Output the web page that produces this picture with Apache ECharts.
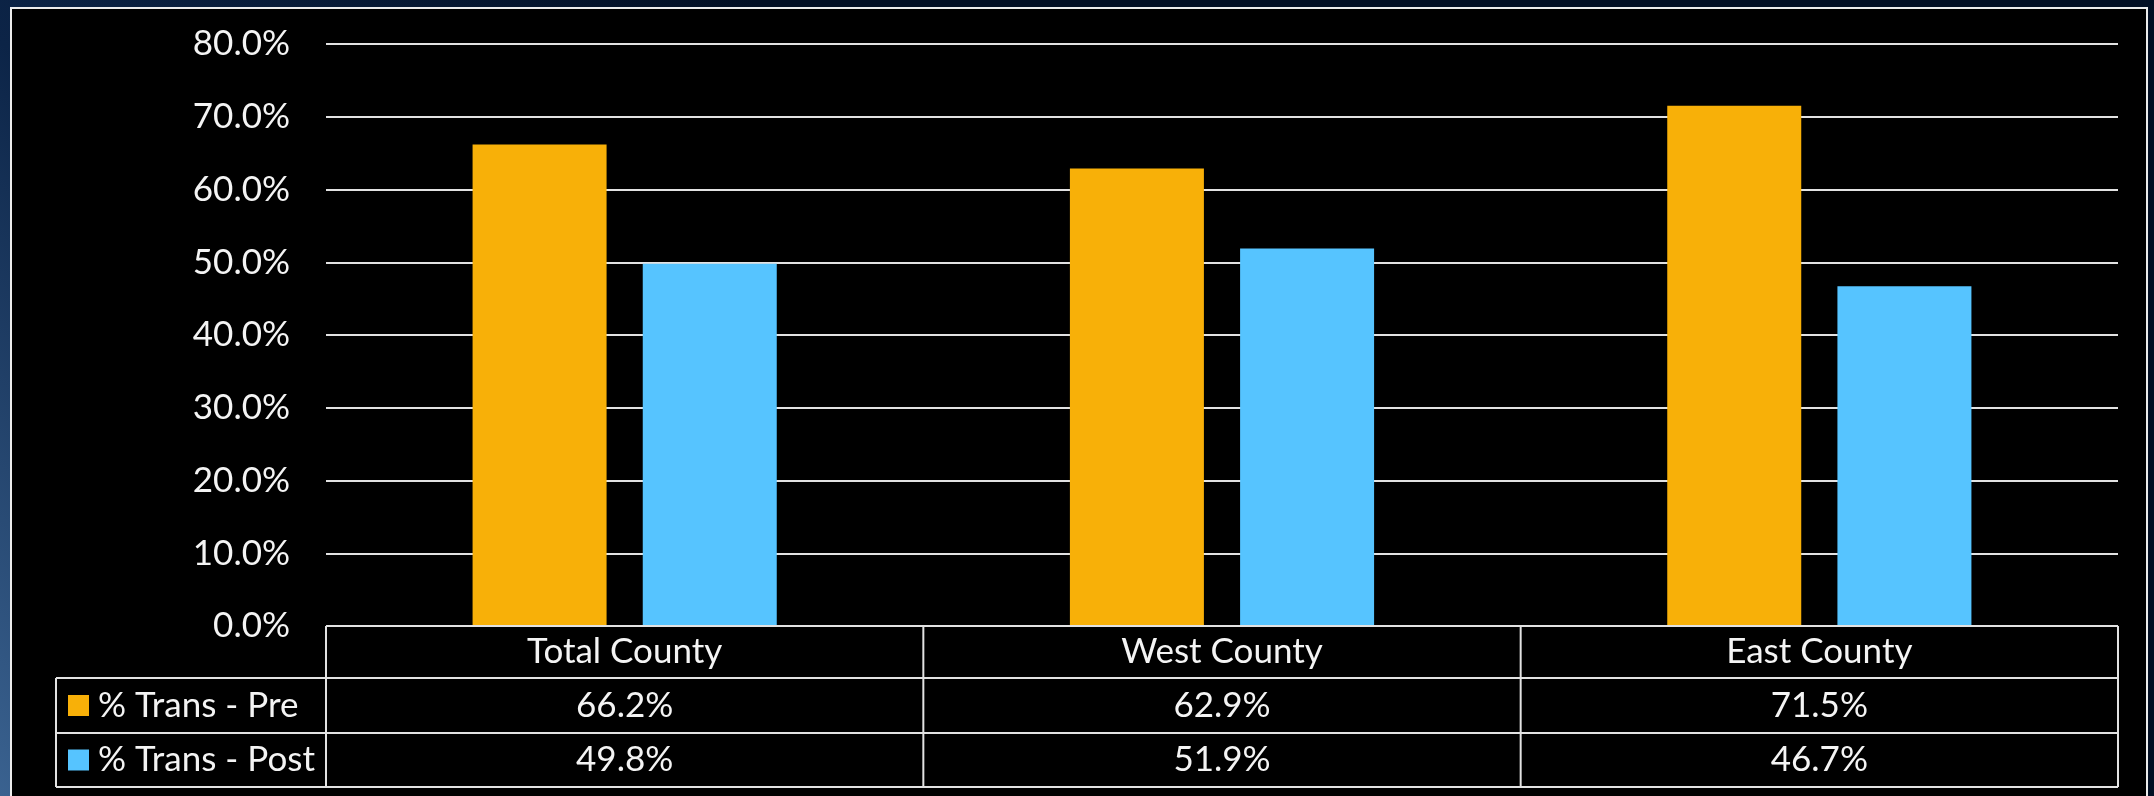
<!DOCTYPE html>
<html><head><meta charset="utf-8">
<script src="https://cdn.jsdelivr.net/npm/echarts@6/dist/echarts.min.js"></script>
<style>html,body{margin:0;padding:0;background:#020f24;overflow:hidden}#c{width:2154px;height:796px;}</style>
</head><body><div id="c"></div>
<script>
// ---- data ----
const categories = ['Total County', 'West County', 'East County'];
const seriesNames = ['% Trans - Pre', '% Trans - Post'];
const preValues = [66.2, 62.9, 71.5];
const postValues = [49.8, 51.9, 46.7];
const yMin = 0, yMax = 80, yInterval = 10;

// ---- style ----
const W = 2154, H = 796;
const FONT = 'Lato';
const TXT = '#f4f4f4';
const LINE = '#e2e2e2';
const colors = ['#F8B008', '#56C4FF'];
const gridL = 326, gridR = 36, gridT = 44, gridB = 170;
const tableTop = H - gridB;             // 626
const rowBottoms = [678, 733, 787];
const legendLeft = 56;

const chart = echarts.init(document.getElementById('c'), null, {renderer: 'canvas'});

const option = {
  backgroundColor: 'transparent',
  animation: false,
  grid: {left: gridL, right: gridR, top: gridT, bottom: gridB, containLabel: false},
  xAxis: {
    type: 'category', data: categories,
    axisLine: {show: false}, axisTick: {show: false},
    axisLabel: {show: true, color: TXT, fontFamily: FONT, fontSize: 35, margin: (rowBottoms[0] - tableTop) / 2, verticalAlign: 'middle'},
    splitLine: {show: false}
  },
  yAxis: {
    type: 'value', min: yMin, max: yMax, interval: yInterval,
    axisLine: {show: false}, axisTick: {show: false},
    axisLabel: {color: TXT, fontFamily: FONT, fontSize: 35, margin: 36, formatter: v => v.toFixed(1) + '%'},
    splitLine: {lineStyle: {color: LINE, width: 2}}
  },
  series: [
    {name: seriesNames[0], type: 'bar', data: preValues, barWidth: 134, barGap: '27%', itemStyle: {color: colors[0]}},
    {name: seriesNames[1], type: 'bar', data: postValues, barWidth: 134, barGap: '27%', itemStyle: {color: colors[1]}}
  ]
};
chart.setOption(option);

// ---- frame, background and data table ----
const g = [];
g.push({type: 'rect', z: -10, silent: true, shape: {x: 0, y: 0, width: W, height: H},
  style: {fill: new echarts.graphic.LinearGradient(0, 1, 0.35, 0, [
    {offset: 0, color: '#3a6290'}, {offset: 0.5, color: '#0c2447'}, {offset: 1, color: '#020f24'}])}});
g.push({type: 'rect', z: -9, silent: true, shape: {x: 11, y: 8, width: 2136, height: 820},
  style: {fill: '#000000', stroke: '#ececec', lineWidth: 2}});

const tableRight = W - gridR;
const centers = categories.map(c => chart.convertToPixel({xAxisIndex: 0}, c));
const band = (tableRight - gridL) / categories.length;
const line = (x1, y1, x2, y2) => g.push({type: 'line', z: 5, silent: true,
  shape: {x1, y1, x2, y2}, style: {stroke: LINE, lineWidth: 2}});

// horizontal lines
line(gridL, tableTop, tableRight, tableTop);
rowBottoms.forEach(y => line(legendLeft, y, tableRight, y));
// vertical lines
for (let i = 0; i <= categories.length; i++) {
  const x = gridL + i * band;
  line(x, tableTop, x, rowBottoms[2]);
}
line(legendLeft, rowBottoms[0], legendLeft, rowBottoms[2]);

const rowVals = [preValues, postValues];
rowVals.forEach((vals, r) => {
  const yTop = rowBottoms[r], yBot = rowBottoms[r + 1];
  const yc = (yTop + yBot) / 2;
  // legend key
  g.push({type: 'rect', z: 6, silent: true, shape: {x: 68, y: yc - 10.5, width: 21, height: 21}, style: {fill: colors[r]}});
  g.push({type: 'text', z: 6, silent: true, x: 98, y: yc,
    style: {text: seriesNames[r], fill: TXT, font: '35px ' + FONT, textAlign: 'left', textVerticalAlign: 'middle', verticalAlign: 'middle'}});
  vals.forEach((v, i) => {
    g.push({type: 'text', z: 6, silent: true, x: centers[i], y: yc,
      style: {text: v.toFixed(1) + '%', fill: TXT, font: '35px ' + FONT, textAlign: 'center', textVerticalAlign: 'middle', verticalAlign: 'middle'}});
  });
});

chart.setOption({graphic: {elements: g}});
</script>
</body></html>
